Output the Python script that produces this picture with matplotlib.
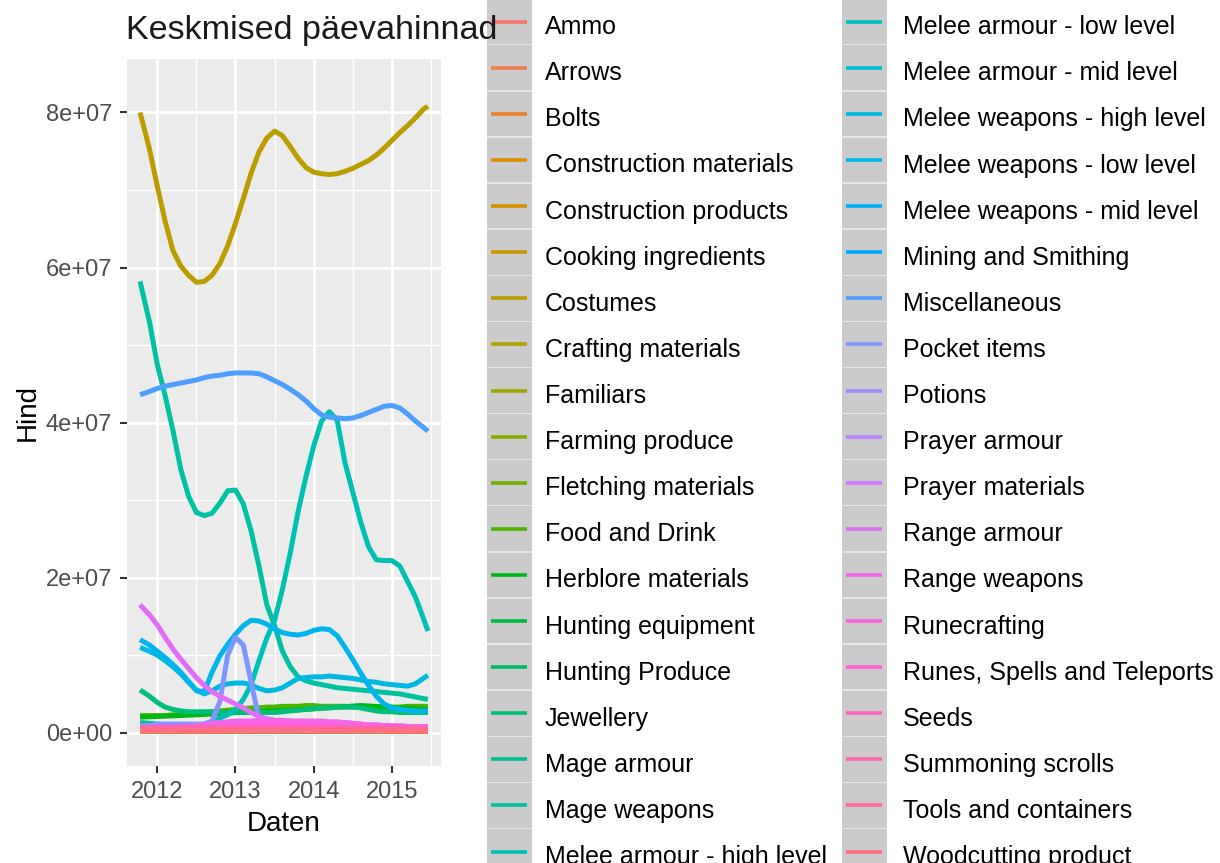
import numpy as np
import matplotlib
matplotlib.use("Agg")
import matplotlib.pyplot as plt
from matplotlib.patches import Rectangle
from matplotlib.lines import Line2D
from matplotlib.ticker import FixedLocator, FuncFormatter

plt.rcParams['font.family'] = ['Liberation Sans', 'DejaVu Sans']

# ---------------- data (values in millions) ----------------
categories = [
    "Ammo", "Arrows", "Bolts", "Construction materials", "Construction products",
    "Cooking ingredients", "Costumes", "Crafting materials", "Familiars",
    "Farming produce", "Fletching materials", "Food and Drink", "Herblore materials",
    "Hunting equipment", "Hunting Produce", "Jewellery", "Mage armour", "Mage weapons",
    "Melee armour - high level", "Melee armour - low level", "Melee armour - mid level",
    "Melee weapons - high level", "Melee weapons - low level", "Melee weapons - mid level",
    "Mining and Smithing", "Miscellaneous", "Pocket items", "Potions", "Prayer armour",
    "Prayer materials", "Range armour", "Range weapons", "Runecrafting",
    "Runes, Spells and Teleports", "Seeds", "Summoning scrolls", "Tools and containers",
    "Woodcutting product",
]

X_FINE = [2011.78, 2011.9, 2012.0, 2012.1, 2012.2, 2012.3, 2012.4, 2012.5, 2012.6, 2012.7,
          2012.8, 2012.9, 2013.0, 2013.1, 2013.2, 2013.3, 2013.4, 2013.5, 2013.6, 2013.7,
          2013.8, 2013.9, 2014.0, 2014.1, 2014.2, 2014.3, 2014.4, 2014.5, 2014.6, 2014.7,
          2014.8, 2014.9, 2015.0, 2015.1, 2015.2, 2015.3, 2015.4, 2015.46]
X_COARSE = [2011.78, 2012.5, 2013.2, 2013.9, 2014.6, 2015.46]

costumes = [80.0, 75.3, 70.5, 66.0, 62.2, 60.2, 59.0, 58.1, 58.2, 59.0, 60.5, 62.8, 65.7,
            68.9, 72.2, 74.9, 76.7, 77.6, 77.0, 75.6, 74.1, 72.9, 72.3, 72.1, 72.0, 72.1,
            72.4, 72.8, 73.3, 73.8, 74.5, 75.4, 76.4, 77.4, 78.3, 79.3, 80.4, 80.8]
miscellaneous = [43.6, 44.0, 44.4, 44.7, 44.9, 45.1, 45.3, 45.5, 45.8, 46.0, 46.1, 46.3, 46.4,
                 46.4, 46.4, 46.3, 45.9, 45.4, 44.9, 44.3, 43.6, 42.8, 41.8, 41.0, 40.7, 40.6,
                 40.5, 40.6, 40.9, 41.3, 41.7, 42.1, 42.2, 41.9, 41.1, 40.2, 39.4, 38.9]
mage_weapons = [58.2, 53.0, 47.5, 43.5, 39.0, 34.0, 30.5, 28.4, 28.0, 28.3, 29.6, 31.2, 31.3,
                29.5, 26.0, 21.5, 16.5, 13.8, 10.5, 8.5, 7.2, 6.7, 6.4, 6.2, 6.0, 5.8,
                5.7, 5.6, 5.5, 5.4, 5.3, 5.2, 5.1, 5.0, 4.8, 4.6, 4.4, 4.3]
melee_armour_high = [0.8, 0.8, 0.8, 0.8, 0.8, 0.9, 0.9, 1.0, 1.1, 1.4, 1.9, 2.3, 3.0,
                     4.3, 6.2, 9.3, 12.2, 14.5, 18.5, 23.2, 28.5, 33.0, 37.0, 40.2, 41.4, 40.3,
                     34.8, 31.0, 27.2, 24.0, 22.3, 22.2, 22.2, 21.5, 19.5, 17.5, 14.8, 13.1]
melee_weapons_low = [12.0, 11.3, 10.5, 9.7, 8.8, 7.8, 6.6, 5.4, 5.3, 7.8, 9.9, 11.4, 12.7,
                     13.8, 14.5, 14.4, 14.0, 13.4, 12.9, 12.7, 12.6, 12.8, 13.2, 13.4, 13.3, 12.5,
                     11.0, 9.4, 7.7, 6.1, 4.7, 3.7, 3.2, 3.0, 2.9, 2.8, 2.8, 2.8]
melee_weapons_high = [11.0, 10.5, 10.0, 9.3, 8.5, 7.6, 6.5, 5.5, 5.0, 5.4, 6.0, 6.3, 6.4,
                      6.4, 6.2, 5.7, 5.4, 5.5, 5.8, 6.4, 7.0, 7.1, 7.2, 7.2, 7.3, 7.2,
                      7.1, 7.0, 6.8, 6.6, 6.5, 6.3, 6.2, 6.1, 6.0, 6.3, 7.0, 7.4]
range_armour = [16.5, 15.2, 13.9, 12.3, 10.8, 9.5, 8.3, 7.1, 6.1, 5.3, 4.7, 4.2, 3.7,
                3.2, 2.6, 2.1, 1.8, 1.6, 1.5, 1.5, 1.4, 1.4, 1.4, 1.4, 1.3, 1.3,
                1.3, 1.2, 1.1, 1.0, 1.0, 0.9, 0.9, 0.9, 0.8, 0.8, 0.8, 0.8]
pocket_items = [0.9, 0.9, 1.1, 1.1, 1.1, 1.1, 1.1, 1.1, 1.1, 1.5, 4.0, 10.0, 12.3,
                11.3, 6.5, 1.8, 1.1, 1.0, 0.9, 0.9, 0.9, 0.8, 0.8, 0.8, 0.8, 0.8,
                0.8, 0.7, 0.7, 0.7, 0.7, 0.7, 0.7, 0.6, 0.6, 0.6, 0.6, 0.6]
jewellery = [5.5, 4.7, 3.9, 3.3, 3.0, 2.8, 2.7, 2.7, 2.7, 2.7, 2.6, 2.6, 2.6,
             2.6, 2.6, 2.6, 2.6, 2.6, 2.7, 2.8, 2.9, 3.0, 3.1, 3.2, 3.2, 3.3,
             3.3, 3.3, 3.2, 3.0, 2.8, 2.7, 2.7, 2.6, 2.6, 2.6, 2.6, 2.6]
food_and_drink = [2.2, 2.2, 2.2, 2.2, 2.3, 2.3, 2.4, 2.5, 2.6, 2.7, 2.8, 2.9, 3.0,
                  3.1, 3.2, 3.2, 3.3, 3.3, 3.4, 3.4, 3.4, 3.5, 3.5, 3.4, 3.4, 3.4,
                  3.4, 3.3, 3.3, 3.3, 3.3, 3.3, 3.3, 3.3, 3.4, 3.4, 3.4, 3.4]
range_weapons = [0.5, 0.5, 0.5, 0.6, 0.6, 0.7, 0.8, 0.9, 1.0, 1.2, 1.3, 1.4, 1.5,
                 1.5, 1.5, 1.6, 1.6, 1.6, 1.6, 1.5, 1.5, 1.5, 1.5, 1.5, 1.4, 1.4,
                 1.3, 1.2, 1.1, 1.0, 1.0, 0.9, 0.9, 0.8, 0.8, 0.8, 0.7, 0.7]

# low, nearly flat series on the coarse grid
ammo = [0.30, 0.28, 0.30, 0.32, 0.30, 0.28]
arrows = [0.15, 0.14, 0.15, 0.16, 0.15, 0.14]
bolts = [0.20, 0.22, 0.21, 0.20, 0.19, 0.18]
construction_materials = [0.35, 0.33, 0.30, 0.30, 0.28, 0.27]
construction_products = [0.60, 0.55, 0.50, 0.50, 0.48, 0.45]
cooking_ingredients = [0.20, 0.19, 0.18, 0.18, 0.17, 0.17]
crafting_materials = [0.55, 0.50, 0.52, 0.55, 0.50, 0.48]
familiars = [0.70, 0.65, 0.60, 0.62, 0.60, 0.58]
farming_produce = [0.30, 0.28, 0.27, 0.28, 0.27, 0.26]
fletching_materials = [0.70, 0.65, 0.60, 0.60, 0.58, 0.55]
herblore_materials = [2.0, 2.3, 2.7, 3.0, 3.5, 3.0]
hunting_equipment = [0.45, 0.44, 0.42, 0.42, 0.40, 0.40]
hunting_produce = [0.65, 0.62, 0.60, 0.60, 0.58, 0.55]
mage_armour = [1.30, 0.70, 0.60, 0.58, 0.55, 0.52]
melee_armour_low = [0.60, 0.58, 0.55, 0.55, 0.52, 0.50]
melee_armour_mid = [0.50, 0.48, 0.46, 0.45, 0.44, 0.42]
melee_weapons_mid = [0.55, 0.52, 0.50, 0.50, 0.48, 0.46]
mining_smithing = [0.60, 0.58, 0.55, 0.55, 0.52, 0.50]
potions = [0.50, 0.48, 0.46, 0.45, 0.44, 0.42]
prayer_armour = [0.70, 0.68, 0.65, 0.63, 0.60, 0.58]
prayer_materials = [0.60, 0.58, 0.56, 0.55, 0.53, 0.50]
runecrafting = [0.50, 0.80, 1.10, 1.10, 0.90, 0.60]
runes_spells = [0.70, 0.75, 0.80, 0.80, 0.75, 0.70]
seeds = [0.50, 0.48, 0.47, 0.47, 0.46, 0.45]
summoning_scrolls = [0.60, 0.60, 0.58, 0.58, 0.56, 0.55]
tools_containers = [0.40, 0.38, 0.37, 0.36, 0.35, 0.35]
woodcutting_product = [0.25, 0.24, 0.23, 0.22, 0.22, 0.21]

series = dict(zip(categories, [
    ammo, arrows, bolts, construction_materials, construction_products,
    cooking_ingredients, costumes, crafting_materials, familiars,
    farming_produce, fletching_materials, food_and_drink, herblore_materials,
    hunting_equipment, hunting_produce, jewellery, mage_armour, mage_weapons,
    melee_armour_high, melee_armour_low, melee_armour_mid,
    melee_weapons_high, melee_weapons_low, melee_weapons_mid,
    mining_smithing, miscellaneous, pocket_items, potions, prayer_armour,
    prayer_materials, range_armour, range_weapons, runecrafting,
    runes_spells, seeds, summoning_scrolls, tools_containers,
    woodcutting_product,
]))

x_ticks = [2012, 2013, 2014, 2015]
x_tick_labels = ["2012", "2013", "2014", "2015"]
y_ticks = [0, 2e7, 4e7, 6e7, 8e7]


# ---------------- ggplot hue palette ----------------
def hcl_hex(h, c=100.0, l=65.0):
    Xn, Yn, Zn = 95.047, 100.0, 108.883
    hr = np.deg2rad(h)
    u, v = c * np.cos(hr), c * np.sin(hr)
    Y = Yn * ((l + 16) / 116) ** 3
    den = Xn + 15 * Yn + 3 * Zn
    un, vn = 4 * Xn / den, 9 * Yn / den
    up, vp = u / (13 * l) + un, v / (13 * l) + vn
    X = 9.0 * Y * up / (4 * vp)
    Z = -X / 3 - 5 * Y + 3 * Y / vp
    M = np.array([[3.240479, -1.537150, -0.498535],
                  [-0.969256, 1.875992, 0.041556],
                  [0.055648, -0.204043, 1.057311]])
    rgb = M @ (np.array([X, Y, Z]) / 100.0)
    rgb = np.where(rgb <= 0.0031308, 12.92 * rgb, 1.055 * np.abs(rgb) ** (1 / 2.4) - 0.055)
    return tuple(np.clip(rgb, 0, 1))


n = len(categories)
hues = np.linspace(15, 375, n + 1)[:n]
colors = [hcl_hex(h) for h in hues]

# ---------------- figure ----------------
W, H = 1220, 863
fig = plt.figure(figsize=(W / 100, H / 100), dpi=100)
fig.patch.set_facecolor("white")

pl, pr, pt, pb = 127, 441, 59, 766
ax = fig.add_axes([pl / W, 1 - pb / H, (pr - pl) / W, (pb - pt) / H])
ax.set_facecolor("#EBEBEB")
for s in ax.spines.values():
    s.set_visible(False)

for i, cat in enumerate(categories):
    vals = np.array(series[cat]) * 1e6
    xs = X_FINE if len(vals) == len(X_FINE) else X_COARSE
    ax.plot(xs, vals, color=colors[i], lw=3.6, solid_joinstyle="round",
            solid_capstyle="butt", zorder=2 + i * 0.01)

ax.set_xlim(2011.613, 2015.627)
ax.set_ylim(-4.3e6, 86.9e6)
ax.xaxis.set_major_locator(FixedLocator(x_ticks))
ax.set_xticklabels(x_tick_labels)
ax.xaxis.set_minor_locator(FixedLocator([2012.5, 2013.5, 2014.5, 2015.5]))
ax.yaxis.set_major_locator(FixedLocator(y_ticks))
ax.yaxis.set_minor_locator(FixedLocator([1e7, 3e7, 5e7, 7e7]))
ax.yaxis.set_major_formatter(FuncFormatter(lambda v, p: f"{v:.0e}"))
ax.grid(which="major", color="white", lw=2.0)
ax.grid(which="minor", color="white", lw=1.0)
ax.set_axisbelow(True)
ax.tick_params(which="major", length=5.3, width=1.5, color="#333333",
               labelsize=17, labelcolor="#4D4D4D", pad=5.5)
ax.tick_params(which="minor", length=0)

ax.set_xlabel("Daten", fontsize=20, labelpad=5.5, color="black")
ax.set_ylabel("Hind", fontsize=20, labelpad=3.5, color="black")

fig.text(126 / W, 1 - 39 / H, "Keskmised päevahinnad", fontsize=24.6,
         ha="left", va="baseline", color="#1A1A1A", zorder=10)

# ---------------- legend (ggplot style, 2 columns) ----------------
lg = fig.add_axes([0, 0, 1, 1], zorder=1)
lg.set_xlim(0, W)
lg.set_ylim(H, 0)
lg.axis("off")
lg.patch.set_alpha(0)

rows = 19
row0, step = 21.7, 46.1
key_x = [487, 842]
key_w = 45
text_x = [545, 903]
for i, cat in enumerate(categories):
    col, row = divmod(i, rows)
    rc = row0 + step * row
    x0 = key_x[col]
    lg.add_patch(Rectangle((x0, rc - step / 2), key_w, step, facecolor="#E6E6E6",
                           edgecolor="none", zorder=1))
    lg.add_patch(Rectangle((x0, rc - step / 2 + 0.7), key_w, step - 1.4,
                           facecolor="#CBCBCB", edgecolor="none", zorder=2))
    lg.add_line(Line2D([x0 + 3.5, x0 + 40], [rc, rc], color=colors[i], lw=2.6,
                       solid_capstyle="butt", zorder=3))
    lg.text(text_x[col], rc + 12.5, cat, fontsize=18, ha="left", va="baseline",
            color="black", zorder=4)

fig.savefig("out.png", dpi=100, facecolor="white")
